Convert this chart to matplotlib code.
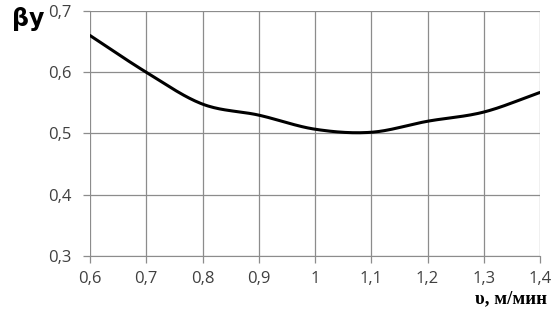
import numpy as np
import matplotlib
matplotlib.use("Agg")
import matplotlib.pyplot as plt
from matplotlib.ticker import FuncFormatter, MultipleLocator

speed = [0.6, 0.7, 0.8, 0.9, 1.0, 1.1, 1.2, 1.3, 1.4]
beta = [0.66, 0.60, 0.548, 0.530, 0.507, 0.502, 0.520, 0.535, 0.567]

def catmull_rom(x, y, n=30):
    x = np.asarray(x, float); y = np.asarray(y, float)
    px = np.concatenate([[2*x[0]-x[1]], x, [2*x[-1]-x[-2]]])
    py = np.concatenate([[2*y[0]-y[1]], y, [2*y[-1]-y[-2]]])
    xs, ys = [], []
    t = np.linspace(0, 1, n, endpoint=False)
    for i in range(1, len(px)-2):
        for arr, out in ((px, xs), (py, ys)):
            p0, p1, p2, p3 = arr[i-1], arr[i], arr[i+1], arr[i+2]
            out.extend(0.5*((2*p1) + (-p0+p2)*t + (2*p0-5*p1+4*p2-p3)*t**2 + (-p0+3*p1-3*p2+p3)*t**3))
    xs.append(x[-1]); ys.append(y[-1])
    return np.array(xs), np.array(ys)

plt.rcParams['font.family'] = ['Open Sans', 'DejaVu Sans']
fig = plt.figure(figsize=(5.53, 3.12), dpi=100)
ax = fig.add_axes([90/553, 1-256/312, 450/553, 245/312])

sx, sy = catmull_rom(speed, beta)
ax.plot(sx, sy, color='black', lw=2.2, solid_capstyle='round')

ax.set_xlim(0.6, 1.4)
ax.set_ylim(0.3, 0.7)
ax.xaxis.set_major_locator(MultipleLocator(0.1))
ax.yaxis.set_major_locator(MultipleLocator(0.1))
fmt = FuncFormatter(lambda v, p: (f"{v:.1f}".rstrip('0').rstrip('.') if abs(v-round(v)) < 1e-9 else f"{v:.1f}").replace('.', ','))
ax.xaxis.set_major_formatter(fmt)
ax.yaxis.set_major_formatter(fmt)
ax.grid(True, color='#8c8c8c', lw=0.9)
for s in ['top', 'right']:
    ax.spines[s].set_visible(False)
ax.spines['left'].set_visible(False)
ax.spines['bottom'].set_color('#8c8c8c')
ax.tick_params(axis='both', colors='#8c8c8c', labelcolor='#404040', labelsize=12, length=5, width=0.9)
ax.tick_params(axis='x', pad=6)
ax.tick_params(axis='y', pad=8)

fig.text(12/553, 1-19/312, 'βy', fontsize=17, fontweight='bold', ha='left', va='center',
         family=['DejaVu Sans'])
fig.text(547/553, 1-299/312, 'υ, м/мин', fontsize=13.5, fontweight='bold', ha='right', va='center',
         family=['Liberation Serif', 'DejaVu Serif'])

fig.savefig('out.png', dpi=100)
